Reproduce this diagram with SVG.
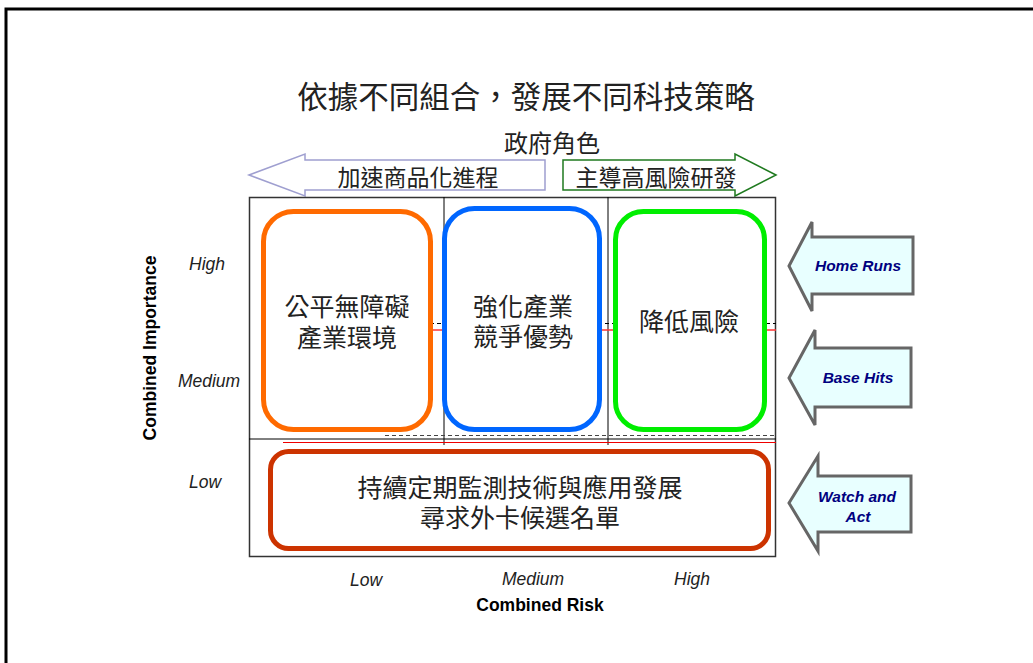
<svg xmlns="http://www.w3.org/2000/svg" width="1033" height="663" viewBox="0 0 1033 663">
<style>
.zh{font-family:"Noto Sans CJK TC","Liberation Sans",sans-serif;fill:#222;text-anchor:middle}
.lab{font-family:"Liberation Sans",Arial,sans-serif;font-style:italic;font-size:17.5px;fill:#222;text-anchor:middle}
.ax{font-family:"Liberation Sans",Arial,sans-serif;font-weight:bold;font-size:17.5px;fill:#000;text-anchor:middle}
.arr{fill:#e8ffff;stroke:#666;stroke-width:3;stroke-linejoin:miter}
.at{font-family:"Liberation Sans",Arial,sans-serif;font-weight:bold;font-style:italic;font-size:15.5px;fill:#000080;text-anchor:middle}
.box{fill:#fff;stroke-width:5}
</style>
<rect x="0" y="0" width="1033" height="663" fill="#fff"/>
<rect x="6" y="9" width="1100" height="700" fill="none" stroke="#000" stroke-width="3"/>
<text class="zh" x="526" y="108" font-size="30.5">依據不同組合，發展不同科技策略</text>
<text class="zh" x="552" y="152" font-size="24">政府角色</text>
<g id="arrow-left">
<polygon points="249,175 305,154 305,160 545,160 545,190 305,190 305,196" fill="#fff" stroke="#9f9fd0" stroke-width="1.5"/>
<text class="zh" x="418" y="186" font-size="23">加速商品化進程</text>
</g>
<g id="arrow-right">
<polygon points="776,175 735,154 735,160 563,160 563,190 735,190 735,196" fill="#fff" stroke="#1f7a1f" stroke-width="1.5"/>
<text class="zh" x="656" y="186" font-size="23">主導高風險研發</text>
</g>
<g id="grid">
<rect x="249.5" y="197.5" width="526" height="359" fill="#fff" stroke="#333" stroke-width="1.5"/>
<line x1="249" y1="439" x2="776" y2="439" stroke="#000" stroke-width="1"/>
<line x1="444" y1="197" x2="444" y2="445" stroke="#000" stroke-width="1"/>
<line x1="608" y1="197" x2="608" y2="445" stroke="#000" stroke-width="1"/>
<line x1="385" y1="435.5" x2="776" y2="435.5" stroke="#444" stroke-width="1" stroke-dasharray="4,3"/>
<line x1="283" y1="442.5" x2="776" y2="442.5" stroke="#e00" stroke-width="1"/>
<line x1="430" y1="323.5" x2="776" y2="323.5" stroke="#000" stroke-width="1" stroke-dasharray="4,3"/>
<line x1="430" y1="330" x2="776" y2="330" stroke="#f33" stroke-width="1.5"/>
</g>
<g id="box-fair">
<rect class="box" x="263.5" y="211.5" width="167" height="218" rx="30" stroke="#ff6a00"/>
<text class="zh" x="347" y="316" font-size="25">公平無障礙</text>
<text class="zh" x="347" y="347" font-size="25">產業環境</text>
</g>
<g id="box-compete">
<rect class="box" x="444.5" y="208.5" width="155" height="221" rx="30" stroke="#0066ff"/>
<text class="zh" x="523" y="316" font-size="25">強化產業</text>
<text class="zh" x="523" y="346" font-size="25">競爭優勢</text>
</g>
<g id="box-risk">
<rect class="box" x="615.5" y="211.5" width="149" height="218" rx="28" stroke="#00ee00"/>
<text class="zh" x="689" y="331" font-size="25">降低風險</text>
</g>
<g id="box-monitor">
<rect class="box" x="270.5" y="451.5" width="498" height="97" rx="18" stroke="#cc3300"/>
<text class="zh" x="520" y="497" font-size="25">持續定期監測技術與應用發展</text>
<text class="zh" x="520" y="527" font-size="25">尋求外卡候選名單</text>
</g>
<g id="axis-labels">
<text class="lab" x="207" y="270">High</text>
<text class="lab" x="209" y="387">Medium</text>
<text class="lab" x="205" y="488">Low</text>
<text class="ax" transform="translate(156,348) rotate(-90)">Combined Importance</text>
<text class="lab" x="366" y="586">Low</text>
<text class="lab" x="533" y="585">Medium</text>
<text class="lab" x="692" y="585">High</text>
<text class="ax" x="540" y="611">Combined Risk</text>
</g>
<g id="home-runs">
<polygon class="arr" points="789,266 812,222 812,237 913,237 913,294 812,294 812,311"/>
<text class="at" x="858" y="271">Home Runs</text>
</g>
<g id="base-hits">
<polygon class="arr" points="789,378 815,330 815,348 911,348 911,407 815,407 815,425"/>
<text class="at" x="858" y="383">Base Hits</text>
</g>
<g id="watch-act">
<polygon class="arr" points="789,503 818,456 818,476 911,476 911,532 818,532 818,551"/>
<text class="at" x="857" y="502">Watch and</text>
<text class="at" x="858" y="522">Act</text>
</g>
</svg>
